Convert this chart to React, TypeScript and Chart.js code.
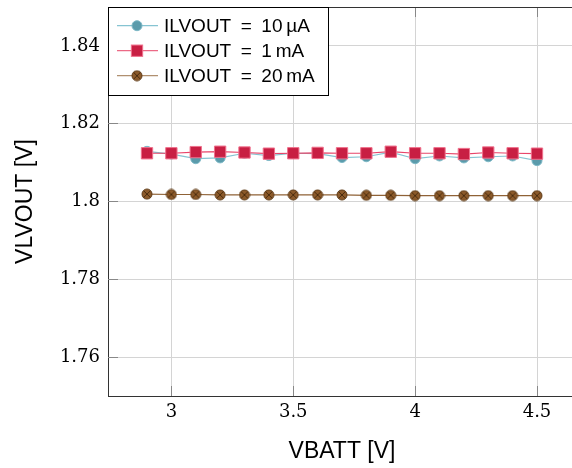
import React, { useEffect, useRef } from "react";
import { Chart, registerables } from "chart.js";

Chart.register(...registerables);

const vbatt = [2.9, 3.0, 3.1, 3.2, 3.3, 3.4, 3.5, 3.6, 3.7, 3.8, 3.9, 4.0, 4.1, 4.2, 4.3, 4.4, 4.5];
const vlvout10uA = [1.8129, 1.8122, 1.8110, 1.8112, 1.8124, 1.8118, 1.8124, 1.8123, 1.8113, 1.8115, 1.8127, 1.8110, 1.8117, 1.8112, 1.8115, 1.8117, 1.8105];
const vlvout1mA = [1.8124, 1.8124, 1.8127, 1.8128, 1.8126, 1.8123, 1.8124, 1.8125, 1.8124, 1.8124, 1.8128, 1.8124, 1.8124, 1.8122, 1.8126, 1.8124, 1.8123];
const vlvout20mA = [1.8019, 1.8018, 1.8018, 1.8017, 1.8017, 1.8017, 1.8017, 1.8017, 1.8017, 1.8016, 1.8016, 1.8015, 1.8015, 1.8015, 1.8015, 1.8015, 1.8015];
const seriesLabels = [
  "ILVOUT\u2002=\u200210\u2009\u00B5A",
  "ILVOUT\u2002=\u20021\u2009mA",
  "ILVOUT\u2002=\u200220\u2009mA",
];
const xTicks = [3, 3.5, 4, 4.5];
const xTickLabels = ["3", "3.5", "4", "4.5"];
const yTicks = [1.76, 1.78, 1.8, 1.82, 1.84];
const yTickLabels = ["1.76", "1.78", "1.8", "1.82", "1.84"];
const xTitle = "VBATT [V]";
const yTitle = "VLVOUT [V]";

function makeOtimes(): HTMLCanvasElement {
  const c = document.createElement("canvas");
  c.width = 12;
  c.height = 12;
  const g = c.getContext("2d")!;
  g.beginPath();
  g.arc(6, 6, 5, 0, Math.PI * 2);
  g.fillStyle = "#8c5a2a";
  g.fill();
  g.strokeStyle = "#5e3a16";
  g.lineWidth = 1;
  g.stroke();
  g.beginPath();
  const d = 3.5;
  g.moveTo(6 - d, 6 - d);
  g.lineTo(6 + d, 6 + d);
  g.moveTo(6 + d, 6 - d);
  g.lineTo(6 - d, 6 + d);
  g.strokeStyle = "#4a2c0e";
  g.lineWidth = 1;
  g.stroke();
  return c;
}

function align(p: number) {
  return Math.round(p - 0.5) + 0.5;
}

function zeroPad(scale: any) {
  scale.paddingTop = 0;
  scale.paddingBottom = 0;
  scale.paddingLeft = 0;
  scale.paddingRight = 0;
}

const framePlugin = {
  id: "frame",
  beforeDatasetsDraw(chart: any) {
    const ctx = chart.ctx;
    const { left, right, top, bottom } = chart.chartArea;
    const xs = chart.scales.x;
    const ys = chart.scales.y;
    ctx.save();
    ctx.strokeStyle = "#888888";
    ctx.lineWidth = 1;
    ctx.beginPath();
    yTicks.forEach((v) => {
      const y = align(ys.getPixelForValue(v));
      ctx.moveTo(left, y);
      ctx.lineTo(left + 10, y);
    });
    xTicks.forEach((v) => {
      const x = align(xs.getPixelForValue(v));
      ctx.moveTo(x, bottom);
      ctx.lineTo(x, bottom - 10);
      ctx.moveTo(x, top);
      ctx.lineTo(x, top + 10);
    });
    ctx.stroke();
    ctx.strokeStyle = "#333333";
    ctx.beginPath();
    const ty = align(top);
    ctx.moveTo(left, ty);
    ctx.lineTo(right, ty);
    ctx.stroke();
    ctx.restore();
  },
  afterDraw(chart: any) {
    const ctx = chart.ctx;
    const { left, top } = chart.chartArea;
    ctx.save();
    const bx = align(left), by = align(top), bw = 220, bh = 88;
    ctx.fillStyle = "#ffffff";
    ctx.fillRect(bx, by, bw, bh);
    ctx.strokeStyle = "#000000";
    ctx.lineWidth = 1;
    ctx.strokeRect(bx, by, bw, bh);
    chart.data.datasets.forEach((ds: any, i: number) => {
      const cy = by + 18.2 + i * 25;
      ctx.beginPath();
      ctx.moveTo(bx + 8.5, cy);
      ctx.lineTo(bx + 49.5, cy);
      ctx.strokeStyle = ds.legendLine;
      ctx.lineWidth = 1.2;
      ctx.stroke();
      const mx = bx + 28.5;
      if (ds.pointStyle === "circle") {
        ctx.beginPath();
        ctx.arc(mx, cy, ds.pointRadius, 0, Math.PI * 2);
        ctx.fillStyle = ds.pointBackgroundColor;
        ctx.fill();
        ctx.strokeStyle = ds.pointBorderColor;
        ctx.lineWidth = 1;
        ctx.stroke();
      } else if (ds.pointStyle === "rect") {
        const s = ds.pointRadius * Math.SQRT1_2;
        ctx.fillStyle = ds.pointBackgroundColor;
        ctx.fillRect(mx - s, cy - s, 2 * s, 2 * s);
        ctx.strokeStyle = ds.pointBorderColor;
        ctx.lineWidth = 1;
        ctx.strokeRect(mx - s, cy - s, 2 * s, 2 * s);
      } else {
        const img = ds.pointStyle as HTMLCanvasElement;
        ctx.drawImage(img, mx - img.width / 2, cy - img.height / 2);
      }
      ctx.fillStyle = "#000000";
      ctx.font = "19px 'Liberation Sans', Arial, sans-serif";
      ctx.textAlign = "left";
      ctx.textBaseline = "middle";
      ctx.fillText(ds.label, bx + 55.5, cy + 1);
    });
    ctx.restore();
  },
};

export default function App() {
  const ref = useRef<HTMLCanvasElement | null>(null);
  useEffect(() => {
    if (!ref.current) return;
    const otimes = makeOtimes();
    const toPts = (ys: number[]) => vbatt.map((x, i) => ({ x, y: ys[i] }));
    const chart = new Chart(ref.current, {
      type: "line",
      data: {
        datasets: [
          {
            label: seriesLabels[0],
            data: toPts(vlvout10uA),
            borderColor: "#86c4d2",
            borderWidth: 1.2,
            pointStyle: "circle",
            pointRadius: 5,
            pointBackgroundColor: "#5b9bab",
            pointBorderColor: "#7db8c6",
            pointBorderWidth: 1,
            tension: 0,
            order: 2,
            legendLine: "#86c4d2",
          } as any,
          {
            label: seriesLabels[1],
            data: toPts(vlvout1mA),
            borderColor: "#e8456a",
            borderWidth: 1.2,
            pointStyle: "rect",
            pointRadius: 8,
            pointBackgroundColor: "#c81f43",
            pointBorderColor: "#f0708c",
            pointBorderWidth: 1,
            tension: 0,
            order: 1,
            legendLine: "#ec6a86",
          } as any,
          {
            label: seriesLabels[2],
            data: toPts(vlvout20mA),
            borderColor: "#8f6236",
            borderWidth: 1.2,
            pointStyle: otimes,
            pointRadius: 5,
            pointBackgroundColor: "#8c5a2a",
            pointBorderColor: "#5e3a16",
            tension: 0,
            order: 3,
            legendLine: "#b09070",
          } as any,
        ],
      },
      options: {
        animation: false,
        responsive: false,
        devicePixelRatio: 1,
        layout: { autoPadding: false, padding: { top: 7, right: 0, bottom: 0, left: 0 } },
        plugins: {
          legend: { display: false },
          tooltip: { enabled: false },
        },
        scales: {
          x: {
            type: "linear",
            min: 2.74,
            max: 4.66,
            afterBuildTicks: (scale: any) => {
              scale.ticks = xTicks.map((v) => ({ value: v }));
            },
            afterFit: (scale: any) => {
              scale.height = 72;
              zeroPad(scale);
            },
            ticks: {
              autoSkip: false,
              maxRotation: 0,
              padding: 6,
              color: "#000000",
              font: { family: "'DejaVu Serif', serif", size: 18 },
              callback: (_v: any, i: number) => xTickLabels[i],
            },
            grid: { color: "#d4d4d4", lineWidth: 1, drawTicks: false },
            border: { display: true, color: "#333333", width: 1 },
            title: {
              display: true,
              text: xTitle,
              color: "#000000",
              font: { family: "'Liberation Sans', Arial, sans-serif", size: 23 },
              padding: { top: 0, bottom: 3 },
            },
          },
          y: {
            type: "linear",
            min: 1.75,
            max: 1.85,
            afterBuildTicks: (scale: any) => {
              scale.ticks = yTicks.map((v) => ({ value: v }));
            },
            afterFit: (scale: any) => {
              scale.width = 108;
              zeroPad(scale);
            },
            ticks: {
              autoSkip: false,
              padding: 8,
              color: "#000000",
              font: { family: "'DejaVu Serif', serif", size: 18 },
              callback: (_v: any, i: number) => yTickLabels[i],
            },
            grid: { color: "#d4d4d4", lineWidth: 1, drawTicks: false },
            border: { display: true, color: "#333333", width: 1 },
            title: {
              display: true,
              text: yTitle,
              color: "#000000",
              font: { family: "'Liberation Sans', Arial, sans-serif", size: 23 },
              padding: { top: 12, bottom: 0 },
            },
          },
        },
      },
      plugins: [framePlugin],
    });
    return () => chart.destroy();
  }, []);
  return (
    <div
      style={{
        position: "fixed",
        left: 0,
        top: 0,
        width: 572,
        height: 468,
        overflow: "hidden",
        background: "#ffffff",
      }}
    >
      <div style={{ position: "absolute", left: 0, top: 0, width: 576, height: 468 }}>
        <canvas ref={ref} width={576} height={468} style={{ width: 576, height: 468, display: "block" }} />
      </div>
    </div>
  );
}
